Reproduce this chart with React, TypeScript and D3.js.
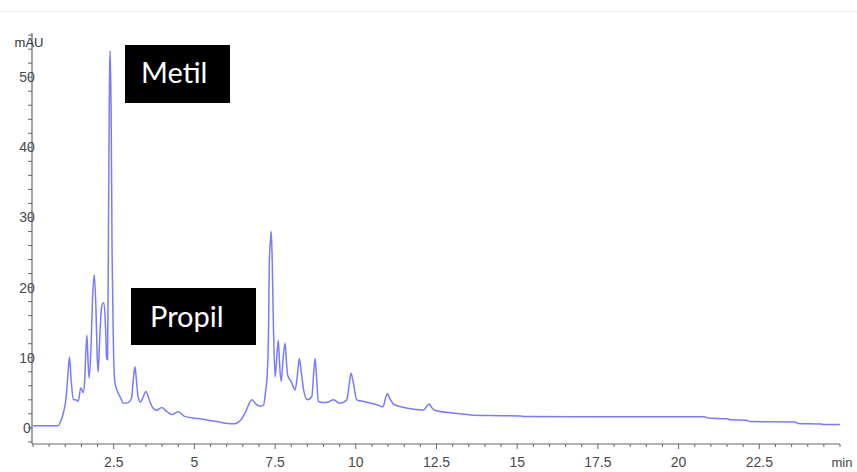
import React from "react";
import * as d3 from "d3";

const times = [
  0, 0.78, 0.88, 0.95, 1.03, 1.08, 1.13, 1.18, 1.25, 1.32, 1.4, 1.48, 1.51, 1.55, 1.6, 1.63, 1.67, 1.71, 1.74,
  1.8, 1.85, 1.9, 1.95, 1.99, 2.02, 2.06, 2.12, 2.17, 2.2, 2.25, 2.28, 2.31, 2.34, 2.37, 2.39, 2.42, 2.45,
  2.49, 2.54, 2.62, 2.72, 2.8, 2.95, 3.05, 3.11, 3.16, 3.2, 3.26, 3.33, 3.42, 3.5, 3.58, 3.68, 3.83, 3.99,
  4.15, 4.3, 4.5, 4.71, 5.17, 5.69, 6.2, 6.32, 6.45, 6.58, 6.7, 6.78, 6.93, 7.05, 7.14, 7.2, 7.26, 7.3, 7.32,
  7.36, 7.38, 7.41, 7.45, 7.5, 7.55, 7.6, 7.64, 7.69, 7.75, 7.81, 7.85, 7.89, 8.0, 8.12, 8.19, 8.25, 8.31,
  8.38, 8.5, 8.64, 8.69, 8.74, 8.78, 8.84, 9.0, 9.15, 9.31, 9.51, 9.72, 9.79, 9.85, 9.92, 10.03, 10.3, 10.65,
  10.84, 10.92, 10.98, 11.05, 11.17, 11.5, 11.79, 12.1, 12.2, 12.27, 12.35, 12.46, 13.03, 13.54, 14.2, 15.1,
  15.2, 17.5, 20.8, 20.9, 21.5, 21.6, 22.1, 22.2, 23.6, 23.7, 24.4, 24.5, 25.0,
];
const absorbance = [
  0.3, 0.3, 1.2, 2.3, 4.5, 7.5, 10.1, 7, 4.0, 4.0, 3.8, 5.7, 5.5, 5.0, 6.5, 10, 13.2, 9, 7.1,
  12, 19, 21.8, 17, 10, 8, 12, 17, 17.8, 17.8, 14, 10, 9.7, 30, 50, 53.8, 45, 25,
  12, 6.4, 5.2, 4.2, 3.5, 3.6, 4.2, 7, 8.7, 7, 4.3, 3.7, 4.5, 5.2, 4.3, 3.1, 2.5, 2.9,
  2.3, 1.9, 2.3, 1.6, 1.3, 0.9, 0.57, 0.7, 1.2, 2.2, 3.5, 4.0, 3.3, 3.1, 3.2, 5, 8, 15, 23.5,
  27, 28, 24, 14, 7.3, 10, 12.5, 9, 6.6, 10, 12.1, 9.5, 7.5, 6.6, 5.4, 7.5, 9.9, 8,
  5.5, 4.0, 4.5, 7.5, 9.9, 7.5, 3.75, 3.6, 3.7, 4.0, 3.5, 4.0, 6, 7.8, 6.5, 4.0, 3.7, 3.3,
  3.0, 4.2, 4.9, 4.2, 3.4, 2.9, 2.65, 2.56, 3.1, 3.4, 2.9, 2.47, 2.1, 1.85, 1.75, 1.7,
  1.62, 1.6, 1.6, 1.4, 1.3, 1.15, 1.1, 0.9, 0.85, 0.62, 0.55, 0.47, 0.47,
];
const xTickLabels = [2.5, 5, 7.5, 10, 12.5, 15, 17.5, 20, 22.5];
const yTickLabels = [0, 10, 20, 30, 40, 50];
const annotations = ["Metil", "Propil"];

export default function App() {
  const W = 857;
  const H = 472;
  const x = d3.scaleLinear().domain([0, 25]).range([33, 840]);
  const y = d3.scaleLinear().domain([-2.3, 56.3]).range([444, 33]);

  const data = times.map((t, i) => [t, absorbance[i]] as [number, number]);
  const line = d3
    .line<[number, number]>()
    .x((d) => x(d[0]))
    .y((d) => y(d[1]))
    .curve(d3.curveMonotoneX);

  const xMinor = d3.range(0, 25.001, 0.5);
  const yMinor = d3.range(-2, 56.001, 2);
  const axisColor = "#666";
  const font = "Liberation Sans, Arial, sans-serif";

  return (
    <svg
      width={W}
      height={H}
      style={{ position: "absolute", left: 0, top: 0, background: "#fff" }}
    >
      <line x1={0} x2={W} y1={11.5} y2={11.5} stroke="#ececec" strokeWidth={1} />
      {/* y axis */}
      <line x1={32} x2={32} y1={y(56.3)} y2={y(-2.3)} stroke={axisColor} strokeWidth={1.2} />
      {yMinor.map((v) => (
        <line
          key={"ym" + v}
          x1={28}
          x2={32}
          y1={y(v)}
          y2={y(v)}
          stroke={axisColor}
          strokeWidth={1}
        />
      ))}
      {yTickLabels.map((v) => (
        <text
          key={"yl" + v}
          x={27}
          y={y(v) + 5}
          textAnchor="middle"
          fontFamily={font}
          fontSize={14}
          fill="#4a4a4a"
        >
          {v}
        </text>
      ))}
      <text x={29} y={47} textAnchor="middle" fontFamily={font} fontSize={13} fill="#333">
        mAU
      </text>
      {/* x axis */}
      <line x1={32} x2={840} y1={444} y2={444} stroke={axisColor} strokeWidth={1.2} />
      {xMinor.map((v) => (
        <line
          key={"xm" + v}
          x1={x(v)}
          x2={x(v)}
          y1={444}
          y2={xTickLabels.includes(v) ? 449 : 447}
          stroke={axisColor}
          strokeWidth={1}
        />
      ))}
      {xTickLabels.map((v) => (
        <text
          key={"xl" + v}
          x={x(v)}
          y={467}
          textAnchor="middle"
          fontFamily={font}
          fontSize={14}
          fill="#4a4a4a"
        >
          {v}
        </text>
      ))}
      <text x={842} y={467} textAnchor="middle" fontFamily={font} fontSize={13} fill="#444">
        min
      </text>
      {/* signal */}
      <path d={line(data) || ""} fill="none" stroke="#7a7aff" strokeWidth={1.5} />
      {/* annotations */}
      <rect x={125} y={45} width={105} height={58} fill="#000" />
      <text x={141} y={83} fontFamily="Lato, sans-serif" fontSize={29} fill="#fff">
        {annotations[0]}
      </text>
      <rect x={131} y={288} width={125} height={57} fill="#000" />
      <text x={150} y={327} fontFamily="Lato, sans-serif" fontSize={29} fill="#fff">
        {annotations[1]}
      </text>
    </svg>
  );
}
